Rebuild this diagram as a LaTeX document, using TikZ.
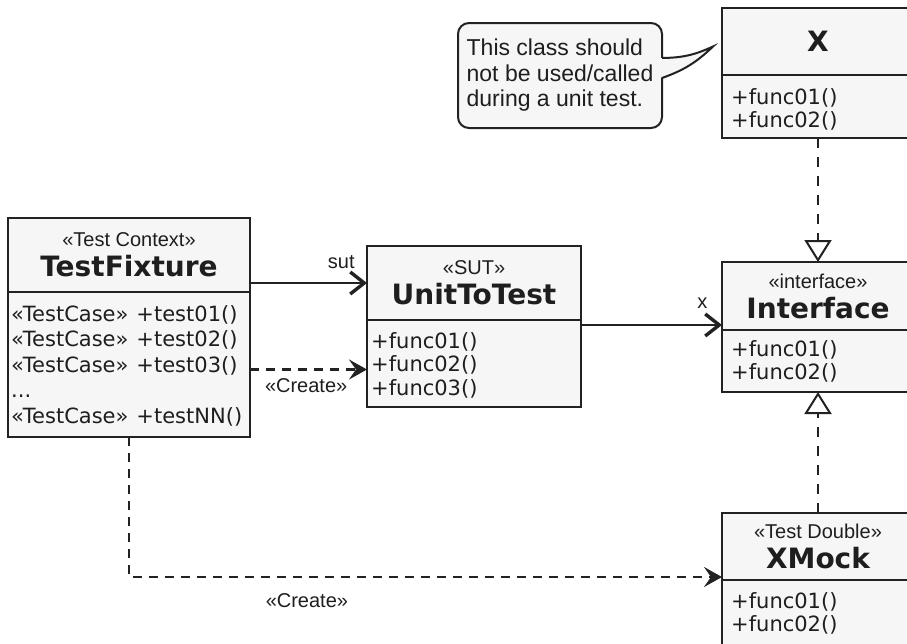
\documentclass[tikz,border=0pt]{standalone}
\usepackage{fontspec}
\setmainfont{Liberation Sans}
\newfontfamily\verdana{DejaVu Sans}
\usetikzlibrary{arrows.meta, positioning, calc}
\definecolor{linecol}{HTML}{222222}
\definecolor{boxfill}{HTML}{F6F6F6}
\definecolor{textcol}{HTML}{1E1E1E}
\newcommand{\namefont}{\verdana\bfseries\fontsize{28}{30}\selectfont}

\begin{document}
\begin{tikzpicture}[x=1pt, y=-1pt,
    classhead/.style = {rectangle, draw=linecol, line width=2.6pt, fill=boxfill, outer sep=0pt, inner sep=0pt, align=center, text=textcol, font=\fontsize{20}{30}\selectfont},
    classbody/.style = {rectangle, draw=linecol, line width=2.6pt, fill=boxfill, outer sep=0pt, inner sep=0pt},
    members/.style = {anchor=north west, inner sep=0pt, align=left, text=textcol, font=\verdana\fontsize{21}{23.5}\selectfont},
    notebox/.style = {rectangle, rounded corners=11pt, draw=linecol, line width=2pt, fill=boxfill, minimum width=204pt, minimum height=105pt, align=left, text=textcol, font=\fontsize{23}{25.5}\selectfont, outer sep=0pt},
    linklabel/.style = {text=textcol, font=\fontsize{20}{24}\selectfont},
    assoc/.style = {line width=2.2pt, draw=linecol, -{Straight Barb[length=14pt, width=22pt, line width=3.4pt]}},
    create/.style = {line width=2.2pt, draw=linecol, dash pattern=on 9pt off 7pt, -{Stealth[length=18pt, width=20pt, inset=7pt]}},
    realize/.style = {line width=2pt, draw=linecol, dash pattern=on 10pt off 9pt, -{Triangle[open, length=22pt, width=27pt, fill=white]}}]
    \useasboundingbox (0,0) rectangle (907,643);
    \clip (0,0) rectangle (907,643);
    \fill[white] (0,0) rectangle (907,643);

    % Classes
    \node (fixhead) [classhead, minimum width=242pt, minimum height=74pt, anchor=north west] at (8,218) {«Test Context»\\{\namefont TestFixture}};
    \node (fixbody) [classbody, minimum width=242pt, minimum height=145pt, below=0pt of fixhead] {};
    \node (fixops) [members, font=\verdana\fontsize{21}{25.5}\selectfont] at ($(fixbody.north west)+(3,13)$) {«TestCase»\hspace{8pt}+test01()\\«TestCase»\hspace{8pt}+test02()\\«TestCase»\hspace{8pt}+test03()\\...\\«TestCase»\hspace{8pt}+testNN()};

    \node (uthead) [classhead, minimum width=214pt, minimum height=74pt, anchor=north west] at (367,246) {«SUT»\\{\namefont UnitToTest}};
    \node (utbody) [classbody, minimum width=214pt, minimum height=87pt, below=0pt of uthead] {};
    \node (utops) [members] at ($(utbody.north west)+(4,12)$) {+func01()\\+func02()\\+func03()};

    \node (xhead) [classhead, minimum width=192pt, minimum height=67pt, anchor=north west] at (722,8) {{\namefont X}};
    \node (xbody) [classbody, minimum width=192pt, minimum height=63pt, below=0pt of xhead] {};
    \node (xops) [members] at ($(xbody.north west)+(9,13)$) {+func01()\\+func02()};

    \node (ifhead) [classhead, minimum width=192pt, minimum height=68pt, anchor=north west] at (722,262) {«interface»\\{\namefont Interface}};
    \node (ifbody) [classbody, minimum width=192pt, minimum height=62pt, below=0pt of ifhead] {};
    \node (ifops) [members] at ($(ifbody.north west)+(9,10)$) {+func01()\\+func02()};

    \node (xmhead) [classhead, minimum width=192pt, minimum height=67pt, anchor=north west] at (722,513) {«Test Double»\\{\namefont XMock}};
    \node (xmbody) [classbody, minimum width=192pt, minimum height=70pt, below=0pt of xmhead] {};
    \node (xmops) [members] at ($(xmbody.north west)+(9,12)$) {+func01()\\+func02()};

    % Note
    \node (note) [notebox] at (560,75.5) {This class should\\not be used/called\\during a unit test.};
    \coordinate (tip) at ($(xhead.west)+(-9,5)$);
    \fill[boxfill] ($(note.east)+(-2,-17.5)$) to[bend right=12] (tip) to[bend left=12] ($(note.east)+(-2,2.5)$) -- cycle;
    \draw[linecol, line width=2pt] ($(note.east)+(0,-17.5)$) to[bend right=12] (tip) to[bend left=12] ($(note.east)+(0,2.5)$);

    % Connectors
    \draw [assoc] (uthead.west -| fixhead.east) -- (uthead.west) node[linklabel, pos=0.78, above=10pt] {sut};
    \coordinate (cr1) at ($(utbody.west)+(0,6)$);
    \draw [create] (cr1 -| fixbody.east) -- (cr1) node[linklabel, pos=0.48, below=5pt] {«Create»};
    \coordinate (xend) at ($(ifhead.south west)+(0,-5)$);
    \draw [assoc] (xend -| utbody.east) -- (xend) node[linklabel, pos=0.86, above=12pt] {x};
    \coordinate (cr2) at ($(xmhead.south west)+(0,-3)$);
    \draw [create] (fixbody.south) |- (cr2) node[linklabel, pos=0.65, below=12pt] {«Create»};
    \draw [realize] (xbody.south) -- (ifhead.north);
    \draw [realize] (xmhead.north) -- (ifbody.south);
\end{tikzpicture}
\end{document}
